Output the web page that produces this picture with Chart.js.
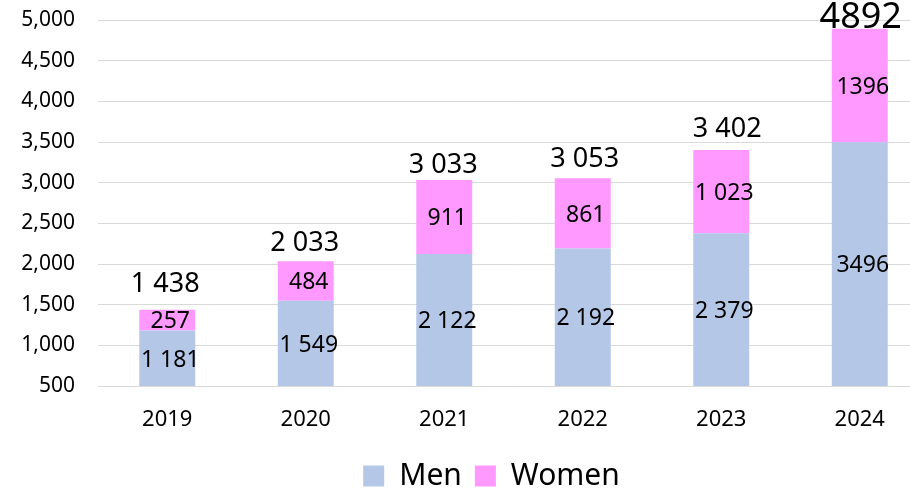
<!DOCTYPE html>
<html>
<head>
<meta charset="utf-8">
<script src="https://cdn.jsdelivr.net/npm/chart.js@4"></script>
<style>
  html, body { margin: 0; padding: 0; background: #fff; overflow: hidden; }
  #wrap { width: 910px; height: 491px; overflow: hidden; }
  #chart { display: block; }
</style>
</head>
<body>
<div id="wrap"><canvas id="chart" width="960" height="502" style="width:960px;height:502px"></canvas></div>
<script>
const years = ['2019', '2020', '2021', '2022', '2023', '2024'];
const men = [1181, 1549, 2122, 2192, 2379, 3496];
const women = [257, 484, 911, 861, 1023, 1396];
const yTicks = [500, 1000, 1500, 2000, 2500, 3000, 3500, 4000, 4500, 5000];

const FONT = "'Noto Sans', 'Open Sans', sans-serif";

// 2024 labels were typed without the thousands space
function fmt(v, i) {
  if (i === 5) return String(v);
  return String(v).replace(/\B(?=(\d{3})+(?!\d))/g, ' ');
}

// small nudges so the totals sit where the original text boxes were
const totalGap = [18, 10, 7, 11, 13, 1];
const totalDx = [-2, -1, -1, 2, 6, 1];

const labelPlugin = {
  id: 'labels',
  afterLayout(chart) {
    // the plot runs off the right edge, keep the legend under the visible part
    chart.legend.left += 17;
    chart.legend.right += 17;
  },
  afterDatasetsDraw(chart) {
    const ctx = chart.ctx;
    const area = chart.chartArea;
    ctx.save();
    ctx.fillStyle = '#000';
    ctx.textAlign = 'center';
    ctx.textBaseline = 'alphabetic';
    chart.data.datasets.forEach((ds, d) => {
      const meta = chart.getDatasetMeta(d);
      meta.data.forEach((bar, i) => {
        const size = 23;
        ctx.font = size + 'px ' + FONT;
        const bottom = Math.min(bar.base, area.bottom);
        const cy = (bar.y + bottom) / 2;
        ctx.fillText(fmt(ds.data[i], i), bar.x + 3, cy + size * 0.36);
      });
    });
    const top = chart.getDatasetMeta(chart.data.datasets.length - 1);
    top.data.forEach((bar, i) => {
      const total = men[i] + women[i];
      const size = i === 5 ? 36 : 27;
      ctx.font = size + 'px ' + FONT;
      ctx.fillText(fmt(total, i), bar.x + totalDx[i], bar.y - totalGap[i]);
    });
    ctx.restore();
  }
};

new Chart(document.getElementById('chart'), {
  type: 'bar',
  data: {
    labels: years,
    datasets: [
      { label: 'Men', data: men, backgroundColor: '#b4c7e7', borderWidth: 0 },
      { label: 'Women', data: women, backgroundColor: '#ff99ff', borderWidth: 0 }
    ]
  },
  options: {
    responsive: false,
    animation: false,
    layout: { padding: { left: 20, right: 31, top: 20, bottom: 1 } },
    datasets: { bar: { categoryPercentage: 1, barPercentage: 0.404 } },
    scales: {
      x: {
        stacked: true,
        grid: { display: false, drawTicks: false },
        border: { display: false },
        ticks: { color: '#000', padding: 21, font: { family: FONT, size: 22 } },
        afterFit(scale) { scale.height = 62; }
      },
      y: {
        stacked: true,
        min: 500,
        max: 5000,
        afterBuildTicks(scale) { scale.ticks = yTicks.map(v => ({ value: v })); },
        grid: { color: '#d9d9d9', lineWidth: 1, drawTicks: false, tickLength: 0 },
        border: { display: false },
        ticks: {
          color: '#000',
          padding: 23,
          font: { family: FONT, size: 21 },
          callback: v => v.toLocaleString('en-US')
        },
        afterFit(scale) {
          scale.width = 78;
          scale.paddingTop = 0;
          scale.paddingBottom = 0;
        }
      }
    },
    plugins: {
      tooltip: { enabled: false },
      legend: {
        position: 'bottom',
        labels: {
          color: '#000',
          boxWidth: 21,
          boxHeight: 21,
          padding: 13,
          font: { family: FONT, size: 30 }
        }
      }
    }
  },
  plugins: [labelPlugin]
});
</script>
</body>
</html>
